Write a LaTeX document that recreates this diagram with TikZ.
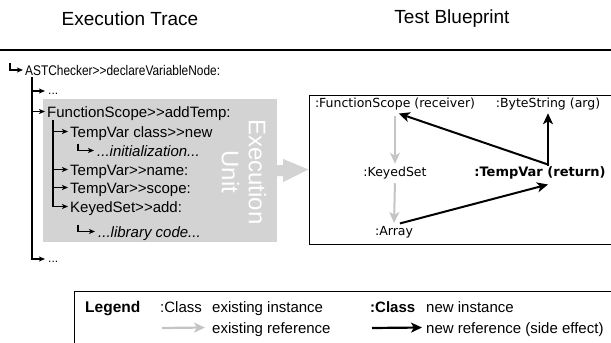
\documentclass[tikz,border=0pt]{standalone}
\usepackage{fontspec}
\setmainfont{Liberation Sans}
\newfontfamily\bpfont{DejaVu Sans}
\usetikzlibrary{arrows.meta,calc}
\definecolor{boxgray}{RGB}{211,211,211}
\definecolor{refgray}{RGB}{196,196,196}
\begin{document}
\begin{tikzpicture}[x=1pt,y=-1pt,
  ttl/.style={inner sep=0pt, font=\fontsize{19}{22}\selectfont},
  tr/.style={anchor=base west, inner sep=0pt, font=\fontsize{15}{18}\selectfont, text height=11pt, text depth=0pt},
  trsmall/.style={anchor=base west, inner sep=0pt, font=\fontsize{14}{17}\selectfont, text height=10pt, text depth=0pt},
  trdots/.style={anchor=base west, inner sep=0pt, font=\fontsize{12}{14}\selectfont, text height=6pt, text depth=0pt},
  tarrow/.style={line width=1.1pt, -{Stealth[length=6pt,width=5pt,inset=1.5pt]}},
  unitbox/.style={fill=boxgray, inner sep=0pt, minimum width=234pt, minimum height=143pt},
  bpt/.style={font=\bpfont\fontsize{12.5}{15}\selectfont, inner sep=2pt},
  oldref/.style={draw=refgray, line width=2pt, -{Stealth[length=11pt,width=10pt,inset=3pt]}},
  newref/.style={draw=black, line width=2pt, -{Stealth[length=11pt,width=10pt,inset=3pt]}},
  lg/.style={anchor=base west, inner sep=0pt, font=\fontsize{15}{18}\selectfont, text height=11pt, text depth=0pt}]
\useasboundingbox (0,0) rectangle (611,343);

% titles
\node[ttl] (t1) at (130,19) {Execution Trace};
\node[ttl] (t2) at (452,19) {Test Blueprint};
\draw[line width=1.3pt] (0,50) -- (611,50);

% execution unit box
\node[unitbox] (unit) at (160,170.5) {};
\node[rotate=-90, text=white, align=center, inner sep=0pt, font=\fontsize{24}{27}\selectfont] (eu) at (244,172) {Execution\\Unit};

% trace texts
\node[trsmall] (ast) at (25,75) {\scalebox{0.85}[1]{ASTChecker>{}>declareVariableNode:}};
\node[trdots] (d1) at (48,94) {...};
\node[tr] (fs) at (47,117) {FunctionScope>{}>addTemp:};
\node[tr] (tvn) at (70,137) {TempVar class>{}>new};
\node[tr] (init) at (97,156) {\itshape ...initialization...};
\node[tr] (name) at (70,175) {TempVar>{}>name:};
\node[tr] (scope) at (70,193) {TempVar>{}>scope:};
\node[tr] (ks) at (70,212) {KeyedSet>{}>add:};
\node[tr] (lib) at (98,237) {\itshape ...library code...};
\node[trdots] (d2) at (48,262) {...};

\coordinate (t0) at (32,77);
\coordinate (u0) at (53,120);

% trace connectors
\draw[tarrow] ([xshift=-15pt,yshift=7pt]ast.west) |- ([xshift=-2pt]ast.west);
\draw[tarrow] (t0) |- ([xshift=-3pt]d2.west);
\draw[tarrow] (t0 |- d1.west) -- ([xshift=-3pt]d1.west);
\draw[tarrow] (t0 |- fs.west) -- ([xshift=-2pt]fs.west);
\draw[tarrow] (u0) |- ([xshift=-2pt]ks.west);
\draw[tarrow] (u0 |- tvn.west) -- ([xshift=-2pt]tvn.west);
\draw[tarrow] (u0 |- name.west) -- ([xshift=-2pt]name.west);
\draw[tarrow] (u0 |- scope.west) -- ([xshift=-2pt]scope.west);
\draw[tarrow] ([xshift=-19pt,yshift=7pt]init.west) |- ([xshift=-3pt]init.west);
\draw[tarrow] ([xshift=-20pt,yshift=7pt]lib.west) |- ([xshift=-3pt]lib.west);

% blueprint box
\node[draw, line width=1pt, inner sep=0pt, minimum width=303pt, minimum height=149pt] (bp) at (460.5,169.5) {};

% big arrow
\fill[boxgray] ($(unit.east)+(0,-5.5)$) -- ($(unit.east)+(6,-5.5)$) -- ($(unit.east)+(6,-11.5)$) -- (bp.west) -- ($(unit.east)+(6,11.5)$) -- ($(unit.east)+(6,5.5)$) -- ($(unit.east)+(0,5.5)$) -- cycle;

% blueprint nodes
\node[bpt] (fs2) at (395,104) {:FunctionScope (receiver)};
\node[bpt] (bs) at (548,104) {:ByteString (arg)};
\node[bpt] (ks2) at (395,173) {:KeyedSet};
\node[bpt, font=\bpfont\bfseries\fontsize{13}{15}\selectfont] (tv) at (540,173) {:TempVar (return)};
\node[bpt] (arr) at (394,232) {:Array};

% blueprint connectors
\draw[oldref, shorten <=4pt, shorten >=1pt] (fs2.south) -- (ks2.north);
\draw[oldref, shorten <=2pt, shorten >=1pt] (ks2.south) -- (arr.north);
\draw[newref, shorten <=-1pt, shorten >=4pt] (bs.south |- tv.north) -- (fs2.south);
\draw[newref, shorten <=-1pt, shorten >=1pt] (bs.south |- tv.north) -- (bs.south);
\draw[newref, shorten <=2pt] ($(arr.north)+(4,0)$) -- ($(tv.south -| bs.south)+(0,3)$);

% legend
\draw[line width=1pt] (74,346) -- (74,291) -- (613,291);
\node[lg, font=\bfseries\fontsize{15.5}{18}\selectfont] (lgt) at (85,312) {Legend};
\node[lg] (c1) at (160,312) {:Class};
\node[lg] (einst) at (212,312) {existing instance};
\node[lg] (eref) at (212,333) {existing reference};
\node[lg, font=\bfseries\fontsize{15}{18}\selectfont] (c2) at (370,312) {:Class};
\node[lg] (ninst) at (426,312) {new instance};
\node[lg] (nref) at (426,333) {new reference (side effect)};
\coordinate (g0) at (162,328);
\coordinate (b0) at (372,328);
\draw[oldref, line width=2.2pt] (g0) -- ([xshift=-7pt]eref.west);
\draw[newref, line width=2.2pt] (b0) -- ([xshift=-4pt]nref.west);
\end{tikzpicture}
\end{document}
